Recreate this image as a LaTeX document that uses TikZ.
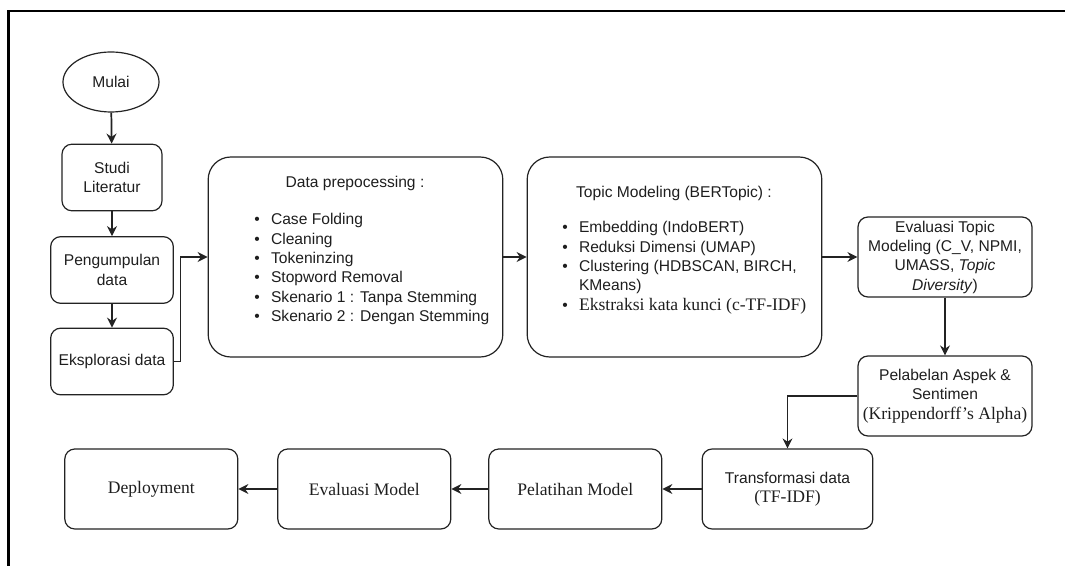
\documentclass[tikz,border=0pt]{standalone}
\usepackage{fontspec}
\setmainfont{Liberation Serif}
\setsansfont{Liberation Sans}
\usetikzlibrary{arrows.meta,positioning,shapes.geometric}
\definecolor{flowline}{RGB}{35,35,35}
\definecolor{flowtext}{RGB}{30,30,30}
\newcommand{\sanstext}{\sffamily\fontsize{11.7}{14.5}\selectfont}
\newcommand{\seriftext}{\rmfamily\fontsize{13.2}{15}\selectfont}
\tikzset{
  startnode/.style={draw=flowline, ellipse, line width=0.9pt, text=flowtext,
                    minimum width=72pt, minimum height=45pt, inner sep=0pt, font=\sanstext},
  stepnode/.style={draw=flowline, rounded corners=7.5pt, line width=0.9pt, text=flowtext,
                   minimum width=#1, minimum height=50pt, inner sep=0pt, align=center, font=\sanstext},
  stepnode/.default=92pt,
  bignode/.style={draw=flowline, rounded corners=17pt, line width=0.9pt,
                  minimum width=221pt, minimum height=150pt, inner sep=0pt},
  evalnode/.style={draw=flowline, rounded corners=7.5pt, line width=0.9pt, text=flowtext,
                   minimum width=#1, minimum height=60pt, inner sep=0pt, align=center, font=\sanstext},
  evalnode/.default=130.5pt,
  modelnode/.style={draw=flowline, rounded corners=7.5pt, line width=0.9pt, text=flowtext,
                    minimum width=129.75pt, minimum height=60pt, inner sep=0pt, font=\seriftext},
  listtitle/.style={font=\sanstext, text=flowtext, inner sep=0pt},
  listtext/.style={font=\sanstext, text=flowtext, inner sep=0pt, align=left},
  flow/.style={draw=flowline, line width=0.8pt, -{Stealth[length=7.5pt, width=7.5pt, inset=2.5pt]}},
}

\begin{document}
\begin{tikzpicture}[x=0.75pt, y=-0.75pt]
  \useasboundingbox (0,0) rectangle (1065,566);
  % Frame
  \draw[line width=1.6pt] (8.5,566) -- (8.5,11) -- (1065,11);

  % Left column
  \node[startnode] (mulai) at (111,82) {Mulai};
  \node[stepnode=75pt] (studi) at (112,177.5) {Studi\\Literatur};
  \node[stepnode] (kumpul) at (112,270) {Pengumpulan\\data};
  \node[stepnode] (eksplor) at (112,361.5) {Eksplorasi data};

  % Preprocessing
  \node[bignode] (prep) at (355.5,257) {};
  \node[listtitle] (preptitle) at (355,183) {Data prepocessing :};
  \node[listtext, anchor=base west] (preplist) at (254,225)
    {\begin{tabular}[t]{@{}l@{\hspace{8.5pt}}l@{}}
      \textbullet & Case Folding\\
      \textbullet & Cleaning\\
      \textbullet & Tokeninzing\\
      \textbullet & Stopword Removal\\
      \textbullet & Skenario 1 : Tanpa Stemming\\
      \textbullet & Skenario 2 : Dengan Stemming
    \end{tabular}};

  % Topic modeling
  \node[bignode] (topic) at (674.5,257) {};
  \node[listtitle] (topictitle) at (674,193) {Topic Modeling (BERTopic) :};
  \node[listtext, anchor=base west] (topiclist) at (562,233)
    {\begin{tabular}[t]{@{}l@{\hspace{8.5pt}}l@{}}
      \textbullet & Embedding (IndoBERT)\\
      \textbullet & Reduksi Dimensi (UMAP)\\
      \textbullet & Clustering (HDBSCAN, BIRCH,\\
                  & KMeans)\\
      \textbullet & \seriftext Ekstraksi kata kunci (c-TF-IDF)
    \end{tabular}};

  % Right column
  \node[evalnode] (evtopic) at (945,257)
    {Evaluasi Topic\\Modeling (C\_V, NPMI,\\UMASS, \textit{Topic}\\\textit{Diversity})};
  \node[evalnode] (label) at (945,396)
    {Pelabelan Aspek \&\\Sentimen\\{\seriftext (Krippendorff’s Alpha)}};
  \node[evalnode=128pt] (transf) at (787.5,489)
    {Transformasi data\\{\seriftext (TF-IDF)}};

  % Bottom row
  \node[modelnode] (latih) at (575.3,489) {Pelatihan Model};
  \node[modelnode] (evmodel) at (364.3,489) {Evaluasi Model};
  \node[modelnode] (deploy) at (151.3,489) {Deployment};

  % Connectors
  \draw[flow, line width=1.3pt] (mulai) -- (studi);
  \draw[flow] (studi) -- (kumpul);
  \draw[flow, line width=1.3pt] (kumpul) -- (eksplor);
  \draw[flow] (eksplor.east) -- ++(7,0) |- (prep.west);
  \draw[flow] (prep) -- (topic);
  \draw[flow] (topic) -- (evtopic);
  \draw[flow] (evtopic) -- (label);
  \draw[flow] (label.west) -| (transf.north);
  \draw[flow] (transf) -- (latih);
  \draw[flow] (latih) -- (evmodel);
  \draw[flow] (evmodel) -- (deploy);
\end{tikzpicture}
\end{document}
